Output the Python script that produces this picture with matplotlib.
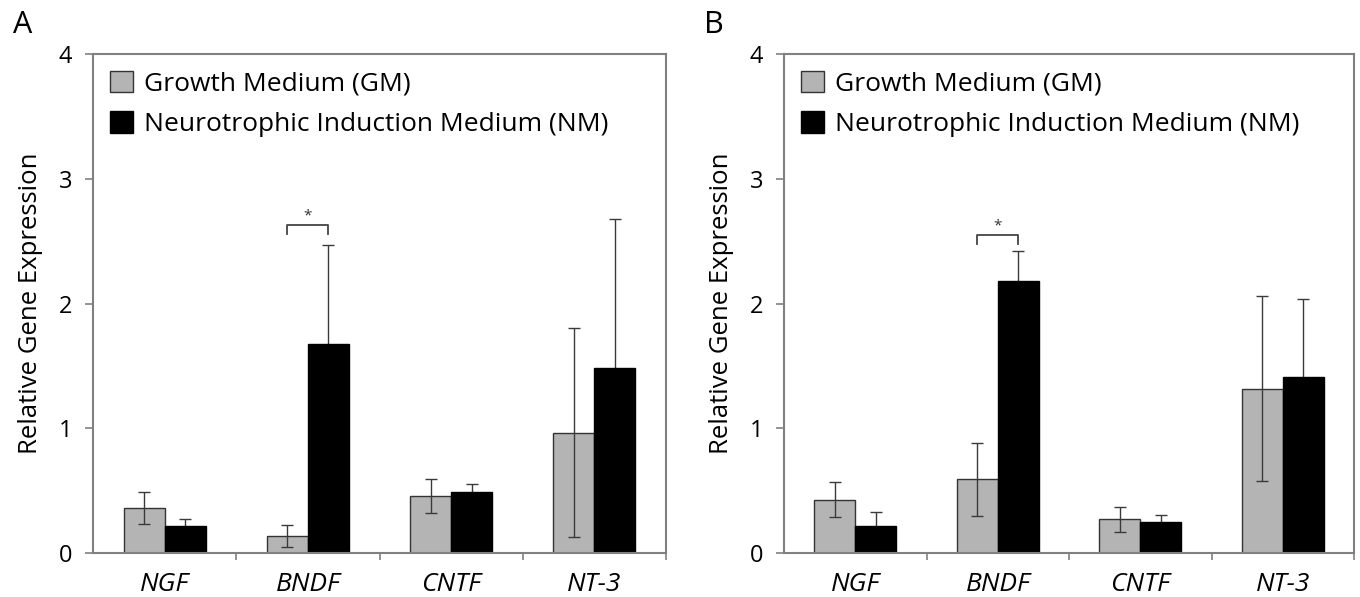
import numpy as np
import matplotlib.pyplot as plt

# data (relative gene expression, mean and error)
genes = ['NGF', 'BNDF', 'CNTF', 'NT-3']
gm_a = [0.36, 0.136, 0.456, 0.965]
gm_a_err = [0.13, 0.09, 0.135, 0.84]
nm_a = [0.216, 1.672, 0.49, 1.48]
nm_a_err = [0.055, 0.80, 0.065, 1.20]

gm_b = [0.427, 0.59, 0.27, 1.317]
gm_b_err = [0.14, 0.29, 0.10, 0.74]
nm_b = [0.219, 2.18, 0.248, 1.41]
nm_b_err = [0.11, 0.24, 0.055, 0.63]

# significance bracket (BNDF): bar y, leg bottom y, star y
sig_a = (2.63, 2.56, 2.70)
sig_b = (2.55, 2.48, 2.62)

plt.rcParams['font.family'] = ['Open Sans', 'DejaVu Sans']

fig = plt.figure(figsize=(13.6, 5.97), dpi=100)
ax_a = fig.add_axes([0.0684, 0.0737, 0.4213, 0.8358])
ax_b = fig.add_axes([0.5765, 0.0737, 0.4191, 0.8358])

gray = '#b4b4b4'
spine_col = '#808080'
width = 0.287
x = np.arange(len(genes))


def draw_panel(ax, gm, gm_err, nm, nm_err, sig, letter):
    ekw = dict(fmt='none', ecolor='#3a3a3a', elinewidth=1.0, capsize=4.5,
               capthick=1.0, zorder=4)
    ax.bar(x - width / 2, gm, width, color=gray, edgecolor='#333333',
           linewidth=1.0, label='Growth Medium (GM)', zorder=3)
    ax.errorbar(x - width / 2, gm, yerr=gm_err, **ekw)
    # black bars sit above their error bars, so only the upper half shows
    ax.bar(x + width / 2, nm, width, color='black', edgecolor='black',
           linewidth=1.0, label='Neurotrophic Induction Medium (NM)',
           zorder=5)
    ax.errorbar(x + width / 2, nm, yerr=nm_err, **ekw)

    ax.set_xlim(-0.5, 3.5)
    ax.set_ylim(0, 4)
    ax.set_yticks([0, 1, 2, 3, 4])
    ax.set_xticks(x)
    ax.set_xticklabels(genes, fontstyle='italic', fontsize=19)
    ax.set_xticks([0.5, 1.5, 2.5, 3.5], minor=True)
    ax.tick_params(axis='x', which='major', length=0, pad=14)
    ax.tick_params(axis='x', which='minor', length=5, width=1.2,
                   color=spine_col, direction='out')
    ax.tick_params(axis='y', length=6, width=1.2, color=spine_col,
                   labelsize=17, pad=9)
    for s in ax.spines.values():
        s.set_color(spine_col)
        s.set_linewidth(1.5)
        s.set_zorder(6)
    ax.set_ylabel('Relative Gene Expression', fontsize=18.5, labelpad=11)

    # bracket between GM and NM bars of BNDF
    i = genes.index('BNDF')
    x0, x1 = i - width / 2, i + width / 2
    ax.plot([x0, x0, x1, x1], [sig[1], sig[0], sig[0], sig[1]],
            color='#444444', lw=1.3, zorder=4)
    ax.text(i, sig[2], '*', ha='center', va='center', fontsize=11,
            color='#333333')

    ax.legend(loc='upper left', bbox_to_anchor=(-0.002, 1.003), frameon=False,
              fontsize=19, handlelength=0.87, handleheight=0.87,
              handletextpad=0.4, labelspacing=0.55, borderaxespad=0.3)
    ax.text(-0.14, 1.058, letter, transform=ax.transAxes, fontsize=22,
            ha='left', va='center')


draw_panel(ax_a, gm_a, gm_a_err, nm_a, nm_a_err, sig_a, 'A')
draw_panel(ax_b, gm_b, gm_b_err, nm_b, nm_b_err, sig_b, 'B')

fig.savefig('out.png', dpi=100)
